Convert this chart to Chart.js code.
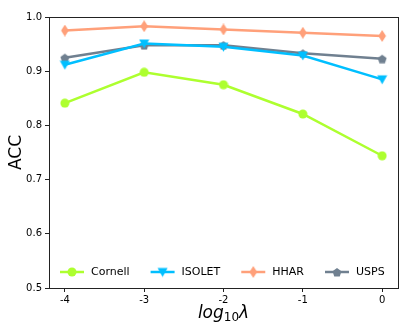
<!DOCTYPE html>
<html>
<head>
<meta charset="utf-8">
<script src="https://cdn.jsdelivr.net/npm/chart.js@4/dist/chart.umd.min.js"></script>
<style>
  html, body { margin: 0; padding: 0; background: #fff; }
  #wrap { width: 415px; height: 327px; }
</style>
</head>
<body>
<div id="wrap"><canvas id="accChart" width="415" height="327"></canvas></div>
<script>
// x values (log10 lambda)
const lambdas = [-4, -3, -2, -1, 0];
const xTicks = [-4, -3, -2, -1, 0];
const yTicks = [0.5, 0.6, 0.7, 0.8, 0.9, 1.0];

// ACC per dataset
const cornell = [0.841, 0.898, 0.875, 0.821, 0.744];
const isolet  = [0.912, 0.951, 0.945, 0.929, 0.885];
const hhar    = [0.975, 0.983, 0.977, 0.971, 0.965];
const usps    = [0.925, 0.948, 0.948, 0.933, 0.923];

const FONT = "'DejaVu Sans', sans-serif";

// little canvas markers, matplotlib-ish
function makeMarker(shape, color, size) {
  const c = document.createElement('canvas');
  c.width = size; c.height = size;
  const g = c.getContext('2d');
  const m = size / 2;
  g.fillStyle = color;
  g.beginPath();
  if (shape === 'circle') {
    g.arc(m, m, m - 0.5, 0, Math.PI * 2);
  } else if (shape === 'tridown') {
    g.moveTo(0.5, 1.5); g.lineTo(size - 0.5, 1.5); g.lineTo(m, size - 0.5);
  } else if (shape === 'thindiamond') {
    g.moveTo(m, 0); g.lineTo(m + size * 0.32, m); g.lineTo(m, size); g.lineTo(m - size * 0.32, m);
  } else if (shape === 'pentagon') {
    for (let k = 0; k < 5; k++) {
      const a = -Math.PI / 2 + k * 2 * Math.PI / 5;
      const px = m + (m - 0.3) * Math.cos(a), py = m + 0.6 + (m - 0.3) * Math.sin(a);
      k ? g.lineTo(px, py) : g.moveTo(px, py);
    }
  }
  g.closePath();
  g.fill();
  return c;
}

function pts(arr) { return lambdas.map((x, i) => ({ x: x, y: arr[i] })); }

const series = [
  { label: 'Cornell', data: cornell, color: '#adff2f', marker: makeMarker('circle', '#adff2f', 10) },
  { label: 'ISOLET', data: isolet, color: '#00bfff', marker: makeMarker('tridown', '#00bfff', 11) },
  { label: 'HHAR', data: hhar, color: '#ffa07a', marker: makeMarker('thindiamond', '#ffa07a', 12) },
  { label: 'USPS', data: usps, color: '#708090', marker: makeMarker('pentagon', '#708090', 10) }
];

// frame, axis titles and the legend inside the plot
const decor = {
  id: 'decor',
  afterDraw(chart) {
    const ctx = chart.ctx, a = chart.chartArea;
    ctx.save();
    ctx.strokeStyle = '#222'; ctx.lineWidth = 1;
    ctx.strokeRect(Math.round(a.left) + 0.5, Math.round(a.top) + 0.5, Math.round(a.right - a.left), Math.round(a.bottom - a.top));

    // y title
    ctx.fillStyle = '#000';
    ctx.font = '17px ' + FONT;
    ctx.textAlign = 'center'; ctx.textBaseline = 'middle';
    ctx.translate(17, (a.top + a.bottom) / 2);
    ctx.rotate(-Math.PI / 2);
    ctx.fillText('ACC', 0, 0);
    ctx.restore();

    // x title log10λ
    ctx.save();
    ctx.fillStyle = '#000';
    ctx.textBaseline = 'alphabetic';
    ctx.font = 'italic 17px ' + FONT;
    const w1 = ctx.measureText('log').width;
    ctx.font = '12px ' + FONT;
    const w2 = ctx.measureText('10').width;
    ctx.font = 'italic 17px ' + FONT;
    const w3 = ctx.measureText('λ').width;
    let x = (a.left + a.right) / 2 - (w1 + w2 + w3) / 2;
    const yb = 318;
    ctx.textAlign = 'left';
    ctx.fillText('log', x, yb); x += w1;
    ctx.font = '12px ' + FONT;
    ctx.fillText('10', x, yb + 3); x += w2;
    ctx.font = 'italic 17px ' + FONT;
    ctx.fillText('λ', x, yb);
    ctx.restore();

    // legend
    ctx.save();
    ctx.font = '11px ' + FONT;
    ctx.textBaseline = 'middle'; ctx.textAlign = 'left';
    let lx = 60;
    const ly = 272;
    series.forEach(s => {
      ctx.strokeStyle = s.color; ctx.lineWidth = 2.5;
      ctx.beginPath(); ctx.moveTo(lx, ly); ctx.lineTo(lx + 24, ly); ctx.stroke();
      ctx.drawImage(s.marker, lx + 12 - s.marker.width / 2, ly - s.marker.height / 2);
      ctx.fillStyle = '#000';
      ctx.fillText(s.label, lx + 31, ly + 0.5);
      lx += 31 + ctx.measureText(s.label).width + 21;
    });
    ctx.restore();
  }
};

const ctx = document.getElementById('accChart').getContext('2d');
const accChart = new Chart(ctx, {
  type: 'line',
  data: {
    datasets: series.map(s => ({
      label: s.label,
      data: pts(s.data),
      borderColor: s.color,
      backgroundColor: s.color,
      borderWidth: 2.5,
      pointStyle: s.marker,
      pointRadius: 5,
      pointHoverRadius: 5,
      tension: 0,
      fill: false
    }))
  },
  options: {
    responsive: false,
    animation: false,
    events: [],
    layout: { padding: { top: 17, right: 17, left: 0, bottom: 0 } },
    plugins: { legend: { display: false }, tooltip: { enabled: false } },
    scales: {
      x: {
        type: 'linear',
        min: -4.2, max: 0.2,
        afterBuildTicks: s => { s.ticks = xTicks.map(v => ({ value: v })); },
        afterFit: s => { s.height = 39; },
        grid: { display: true, drawOnChartArea: false, tickLength: 4, color: '#222' },
        border: { display: false },
        ticks: { color: '#000', font: { family: FONT, size: 10 }, padding: 2, maxRotation: 0,
          callback: v => String(v) }
      },
      y: {
        min: 0.5, max: 1.0,
        afterBuildTicks: s => { s.ticks = yTicks.map(v => ({ value: v })); },
        afterFit: s => { s.width = 49; },
        grid: { display: true, drawOnChartArea: false, tickLength: 4, color: '#222' },
        border: { display: false },
        ticks: { color: '#000', font: { family: FONT, size: 10 }, padding: 3,
          callback: v => v.toFixed(1) }
      }
    }
  },
  plugins: [decor]
});
</script>
</body>
</html>
